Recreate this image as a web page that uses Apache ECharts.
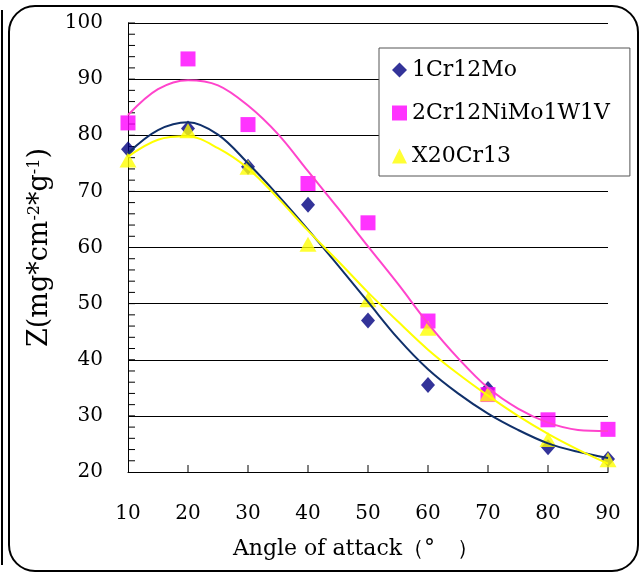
<!DOCTYPE html>
<html>
<head>
<meta charset="utf-8">
<script src="https://cdn.jsdelivr.net/npm/echarts@6/dist/echarts.min.js"></script>
<style>
	html, body { margin: 0; padding: 0; background: #fff; }
	#main { width: 640px; height: 574px; }
</style>
</head>
<body>
<div id="main"></div>
<script>
var angles = [10, 20, 30, 40, 50, 60, 70, 80, 90];
var z1Cr12Mo = [77.5, 81.2, 74.4, 67.6, 47.0, 35.5, 34.8, 24.4, 22.3];
var z2Cr12NiMo1W1V = [82.2, 93.6, 81.9, 71.4, 64.4, 46.9, 33.8, 29.3, 27.6];
var zX20Cr13 = [75.6, 80.8, 74.3, 60.6, 50.7, 45.6, 33.9, 25.8, 22.2];

// trend curves, every 5 degrees
var fitAngles = [10, 15, 20, 25, 30, 35, 40, 45, 50, 55, 60, 65, 70, 75, 80, 85, 90];
var fit1Cr12Mo = [76.8, 80.9, 82.3, 80.1, 75.0, 69.3, 63.2, 56.8, 50.3, 43.8, 38.3, 34.0, 30.4, 27.5, 25.1, 23.6, 22.5];
var fit2Cr12NiMo1W1V = [83.6, 88.2, 89.8, 88.9, 85.3, 80.2, 73.6, 67.0, 60.2, 53.5, 46.5, 40.3, 35.0, 31.3, 28.8, 27.5, 27.3];
var fitX20Cr13 = [76.2, 79.2, 79.8, 77.7, 74.1, 68.8, 63.0, 57.6, 52.0, 46.8, 41.8, 37.5, 33.6, 30.0, 26.8, 24.0, 21.5];

// tick positions
var xTicks = [10, 20, 30, 40, 50, 60, 70, 80, 90];
var yTicks = [22, 24, 26, 28, 30, 32, 34, 36, 38, 40, 42, 44, 46, 48, 50, 52, 54, 56, 58, 60,
	62, 64, 66, 68, 70, 72, 74, 76, 78, 80, 82, 84, 86, 88, 90, 92, 94, 96, 98, 100];

var serif = 'DejaVu Serif';

function pairs(xs, ys) {
	var out = [];
	for (var i = 0; i < xs.length; i++) out.push([xs[i], ys[i]]);
	return out;
}

var yTickData = [];
for (var i = 0; i < yTicks.length; i++) yTickData.push([10, yTicks[i]]);
var xTickData = [];
for (var j = 1; j < xTicks.length; j++) xTickData.push([xTicks[j], 20]);

function tickMark(dx, dy) {
	return function(params, api) {
		var p = api.coord([api.value(0), api.value(1)]);
		return {
			type: 'line',
			shape: { x1: p[0], y1: p[1], x2: p[0] + dx, y2: p[1] + dy },
			style: { stroke: '#000', lineWidth: 1 }
		};
	};
}

var myChart = echarts.init(document.getElementById('main'));
var option = {
	animation: false,
	backgroundColor: '#fff',
	graphic: [
		{
			type: 'rect',
			shape: { x: 9, y: 6, width: 629, height: 565, r: 26 },
			style: { fill: 'none', stroke: '#000', lineWidth: 2 },
			silent: true
		},
		{
			type: 'line',
			shape: { x1: 2, y1: 10, x2: 2, y2: 565 },
			style: { stroke: '#000', lineWidth: 2 },
			silent: true
		}
	],
	grid: { left: 128, right: 32, top: 23, bottom: 102 },
	legend: {
		data: ['1Cr12Mo', '2Cr12NiMo1W1V', 'X20Cr13'],
		orient: 'vertical',
		left: 379,
		top: 48,
		padding: [11, 20, 9, 13],
		itemGap: 21,
		itemWidth: 15,
		itemHeight: 15,
		backgroundColor: '#fff',
		borderColor: '#555',
		borderWidth: 1,
		textStyle: { fontFamily: serif, fontSize: 22, color: '#000' }
	},
	xAxis: {
		type: 'value',
		min: 10,
		max: 90,
		interval: 10,
		name: 'Angle of attack（°　）',
		nameLocation: 'middle',
		nameGap: 66,
		nameTextStyle: { fontFamily: serif, fontSize: 22, color: '#000', padding: [0, 24, 0, 0] },
		axisLine: { show: true, lineStyle: { color: '#000', width: 1 } },
		axisTick: { show: false },
		axisLabel: {
			margin: 32,
			fontFamily: serif,
			fontSize: 20,
			color: '#000',
			customValues: xTicks
		},
		splitLine: { show: false }
	},
	yAxis: {
		type: 'value',
		min: 20,
		max: 100,
		interval: 10,
		name: '{n|Z(mg*cm}{s|-2}{n|*g}{s|-1}{n|)}',
		nameLocation: 'middle',
		nameRotate: 90,
		nameGap: 70,
		nameTextStyle: {
			rich: {
				n: { fontFamily: serif, fontSize: 27, color: '#000' },
				s: { fontFamily: serif, fontSize: 16, color: '#000', verticalAlign: 'top' }
			}
		},
		axisLine: { show: true, lineStyle: { color: '#000', width: 1 } },
		axisTick: { show: false },
		axisLabel: { margin: 25, fontFamily: serif, fontSize: 20, color: '#000' },
		splitLine: { show: true, lineStyle: { color: '#000', width: 1 } }
	},
	series: [
		{
			name: 'y ticks',
			type: 'custom',
			silent: true,
			renderItem: tickMark(7, 0),
			data: yTickData,
			z: 1
		},
		{
			name: 'x ticks',
			type: 'custom',
			silent: true,
			renderItem: tickMark(0, -7),
			data: xTickData,
			z: 1
		},
		{
			name: '1Cr12Mo',
			type: 'scatter',
			symbol: 'diamond',
			symbolSize: [14, 16],
			itemStyle: { color: '#000080' },
			data: pairs(angles, z1Cr12Mo),
			z: 2
		},
		{
			name: '2Cr12NiMo1W1V',
			type: 'scatter',
			symbol: 'rect',
			symbolSize: 15,
			itemStyle: { color: '#ff00ff' },
			data: pairs(angles, z2Cr12NiMo1W1V),
			z: 2
		},
		{
			name: 'X20Cr13',
			type: 'scatter',
			symbol: 'triangle',
			symbolSize: [17, 15],
			itemStyle: { color: '#ffff00' },
			data: pairs(angles, zX20Cr13),
			z: 2
		},
		{
			name: 'trend 1Cr12Mo',
			type: 'line',
			smooth: 0.35,
			showSymbol: false,
			lineStyle: { color: '#10306a', width: 2 },
			data: pairs(fitAngles, fit1Cr12Mo),
			z: 3
		},
		{
			name: 'trend 2Cr12NiMo1W1V',
			type: 'line',
			smooth: 0.35,
			showSymbol: false,
			lineStyle: { color: '#ff44cc', width: 2 },
			data: pairs(fitAngles, fit2Cr12NiMo1W1V),
			z: 3
		},
		{
			name: 'trend X20Cr13',
			type: 'line',
			smooth: 0.35,
			showSymbol: false,
			lineStyle: { color: '#ffff00', width: 2 },
			data: pairs(fitAngles, fitX20Cr13),
			z: 3
		}
	]
};
myChart.setOption(option);
</script>
</body>
</html>
